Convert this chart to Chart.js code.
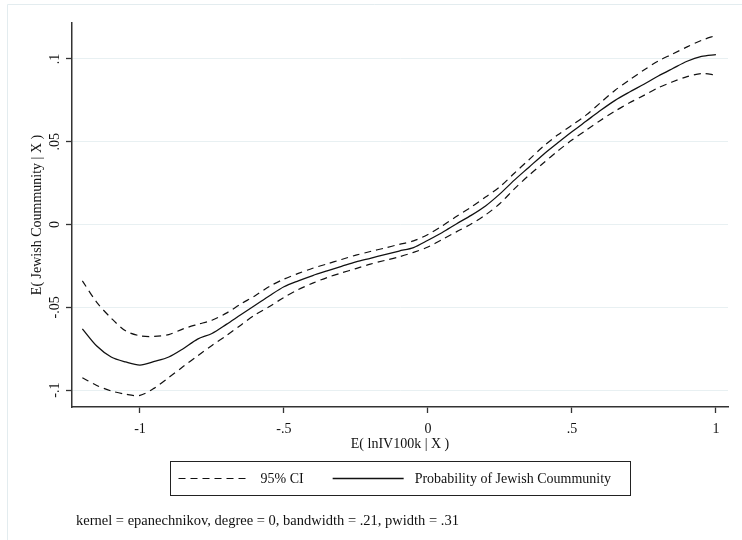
<!DOCTYPE html>
<html>
<head>
<meta charset="utf-8">
<script src="https://cdn.jsdelivr.net/npm/chart.js@4.4.1/dist/chart.umd.min.js"></script>
<style>
html, body { margin: 0; padding: 0; background: #fff; }
#chart { display: block; }
</style>
</head>
<body>
<canvas id="chart" width="742" height="540"></canvas>
<script>
// E( lnIV100k | X ) grid
const xValues = [-1.2, -1.15, -1.1, -1.05, -1.0, -0.95, -0.9, -0.85, -0.8, -0.75, -0.7, -0.65, -0.6, -0.55, -0.5,
    -0.45, -0.4, -0.35, -0.3, -0.25, -0.2, -0.15, -0.1, -0.05, 0, 0.05, 0.1, 0.15, 0.2, 0.25, 0.3,
    0.35, 0.4, 0.45, 0.5, 0.55, 0.6, 0.65, 0.7, 0.75, 0.8, 0.85, 0.9, 0.95, 1.0];

// lpoly smooth
const meanValues = [-0.0630, -0.0734, -0.0800, -0.0830, -0.0849, -0.0827, -0.0800, -0.0750, -0.0692, -0.0658, -0.0603, -0.0545, -0.0488, -0.0430, -0.0376,
    -0.0340, -0.0308, -0.0280, -0.0253, -0.0226, -0.0204, -0.0182, -0.0160, -0.0139, -0.0095, -0.0048, 0.0005, 0.0055, 0.0112, 0.0185, 0.0268,
    0.0345, 0.0422, 0.0492, 0.0560, 0.0625, 0.0690, 0.0750, 0.0800, 0.0847, 0.0897, 0.0942, 0.0986, 0.1015, 0.1026];

// 95% CI upper / lower
const upperValues = [-0.0340, -0.0470, -0.0565, -0.0642, -0.0672, -0.0676, -0.0665, -0.0630, -0.0603, -0.0578, -0.0535, -0.0480, -0.0430, -0.0373, -0.0330,
    -0.0295, -0.0264, -0.0238, -0.0211, -0.0185, -0.0163, -0.0142, -0.0120, -0.0099, -0.0060, -0.0008, 0.0050, 0.0105, 0.0166, 0.0228, 0.0310,
    0.0390, 0.0471, 0.0540, 0.0600, 0.0662, 0.0737, 0.0811, 0.0873, 0.0933, 0.0988, 0.1030, 0.1073, 0.1112, 0.1142];

const lowerValues = [-0.0925, -0.0972, -0.1005, -0.1025, -0.1032, -0.0988, -0.0924, -0.0858, -0.0793, -0.0730, -0.0671, -0.0608, -0.0545, -0.0495, -0.0440,
    -0.0393, -0.0354, -0.0320, -0.0292, -0.0266, -0.0239, -0.0217, -0.0195, -0.0168, -0.0136, -0.0090, -0.0043, 0.0003, 0.0058, 0.0127, 0.0215,
    0.0296, 0.0370, 0.0443, 0.0510, 0.0570, 0.0630, 0.0685, 0.0735, 0.0780, 0.0826, 0.0862, 0.0893, 0.0912, 0.0903];

const xTicks = [-1, -0.5, 0, 0.5, 1];
const xTickLabels = ['-1', '-.5', '0', '.5', '1'];
const yTicks = [-0.1, -0.05, 0, 0.05, 0.1];
const yTickLabels = ['-.1', '-.05', '0', '.05', '.1'];
const seriesLabels = ['95% CI', 'Probability of Jewish Coummunity'];
const xTitle = 'E( lnIV100k | X )';
const yTitle = 'E( Jewish Coummunity | X )';
const noteText = 'kernel = epanechnikov, degree = 0, bandwidth = .21, pwidth = .31';

const FONT = "'Liberation Serif', 'DejaVu Serif', serif";
const DASH = [7, 5];

function toPoints(ys) {
    return xValues.map((x, i) => ({ x: x, y: ys[i] }));
}

// nền trắng + khung nhạt bên ngoài
const framePlugin = {
    id: 'frame',
    beforeDraw(chart) {
        const ctx = chart.ctx;
        ctx.save();
        ctx.fillStyle = '#fff';
        ctx.fillRect(0, 0, chart.width, chart.height);
        ctx.strokeStyle = '#E3ECEF';
        ctx.lineWidth = 1;
        ctx.beginPath();
        ctx.moveTo(7.5, chart.height);
        ctx.lineTo(7.5, 4.5);
        ctx.lineTo(chart.width, 4.5);
        ctx.stroke();
        ctx.restore();
    }
};

// chú thích kiểu Stata (hộp có viền) + ghi chú
const legendNotePlugin = {
    id: 'legendNote',
    afterDraw(chart) {
        const ctx = chart.ctx;
        const area = chart.chartArea;
        const ds = chart.data.datasets;
        ctx.save();
        ctx.font = '14px ' + FONT;
        ctx.textBaseline = 'middle';
        ctx.fillStyle = '#111';
        const w1 = ctx.measureText(seriesLabels[0]).width;
        const w2 = ctx.measureText(seriesLabels[1]).width;
        const sample = 71, gap = 11, itemGap = 29, padL = 8, padR = 19;
        const boxW = padL + sample + gap + w1 + itemGap + sample + gap + w2 + padR;
        const cx = (area.left + area.right) / 2;
        const left = Math.round(cx - boxW / 2) + 0.5;
        const top = area.bottom + 54.5;
        const h = 34;
        const midY = top + h / 2;

        ctx.strokeStyle = '#222';
        ctx.lineWidth = 1;
        ctx.setLineDash([]);
        ctx.strokeRect(left, top, Math.round(boxW), h);

        let x = left + padL;
        // dashed sample
        ctx.beginPath();
        ctx.setLineDash(ds[0].borderDash);
        ctx.lineWidth = ds[0].borderWidth;
        ctx.strokeStyle = ds[0].borderColor;
        ctx.moveTo(x, midY);
        ctx.lineTo(x + sample, midY);
        ctx.stroke();
        x += sample + gap;
        ctx.fillText(seriesLabels[0], x, midY + 1);
        x += w1 + itemGap;
        // solid sample
        ctx.beginPath();
        ctx.setLineDash([]);
        ctx.lineWidth = ds[2].borderWidth;
        ctx.strokeStyle = ds[2].borderColor;
        ctx.moveTo(x, midY);
        ctx.lineTo(x + sample, midY);
        ctx.stroke();
        x += sample + gap;
        ctx.fillText(seriesLabels[1], x, midY + 1);

        ctx.font = '14.5px ' + FONT;
        ctx.fillText(noteText, area.left + 4, area.bottom + 114);
        ctx.restore();
    }
};

const ctx = document.getElementById('chart').getContext('2d');
new Chart(ctx, {
    type: 'line',
    data: {
        datasets: [
            {
                label: seriesLabels[0],
                data: toPoints(upperValues),
                borderColor: '#111',
                borderWidth: 1.2,
                borderDash: DASH,
                pointRadius: 0,
                tension: 0.3,
                fill: false
            },
            {
                label: seriesLabels[0],
                data: toPoints(lowerValues),
                borderColor: '#111',
                borderWidth: 1.2,
                borderDash: DASH,
                pointRadius: 0,
                tension: 0.3,
                fill: false
            },
            {
                label: seriesLabels[1],
                data: toPoints(meanValues),
                borderColor: '#111',
                borderWidth: 1.3,
                pointRadius: 0,
                tension: 0.3,
                fill: false
            }
        ]
    },
    options: {
        responsive: false,
        animation: false,
        layout: { padding: { top: 23, right: 14, bottom: 87, left: 20 } },
        plugins: {
            legend: { display: false },
            tooltip: { enabled: false }
        },
        scales: {
            x: {
                type: 'linear',
                min: -1.236,
                max: 1.042,
                afterBuildTicks: scale => { scale.ticks = xTicks.map(v => ({ value: v })); },
                afterFit: scale => { scale.height = 46; },
                grid: {
                    drawOnChartArea: false,
                    drawTicks: true,
                    tickLength: 6,
                    tickColor: '#333',
                    tickWidth: 1.3
                },
                border: { display: true, color: '#333', width: 1.5 },
                ticks: {
                    padding: 8,
                    color: '#111',
                    font: { family: FONT, size: 14 },
                    maxRotation: 0,
                    callback: (v, i) => xTickLabels[i]
                },
                title: {
                    display: true,
                    text: xTitle,
                    color: '#111',
                    font: { family: FONT, size: 14 },
                    padding: { top: 0, bottom: 0 }
                }
            },
            y: {
                type: 'linear',
                min: -0.1102,
                max: 0.1217,
                afterBuildTicks: scale => { scale.ticks = yTicks.map(v => ({ value: v })); },
                afterFit: scale => { scale.width = 52; },
                grid: {
                    color: '#E8F0F2',
                    lineWidth: 1,
                    drawTicks: true,
                    tickLength: 6,
                    tickColor: '#333',
                    tickWidth: 1.3
                },
                border: { display: true, color: '#333', width: 1.5 },
                ticks: {
                    padding: 0,
                    minRotation: 90,
                    maxRotation: 90,
                    crossAlign: 'center',
                    color: '#111',
                    font: { family: FONT, size: 14 },
                    callback: (v, i) => yTickLabels[i]
                },
                title: {
                    display: true,
                    text: yTitle,
                    color: '#111',
                    font: { family: FONT, size: 14 },
                    padding: { top: 9, bottom: 0 }
                }
            }
        }
    },
    plugins: [framePlugin, legendNotePlugin]
});
</script>
</body>
</html>
